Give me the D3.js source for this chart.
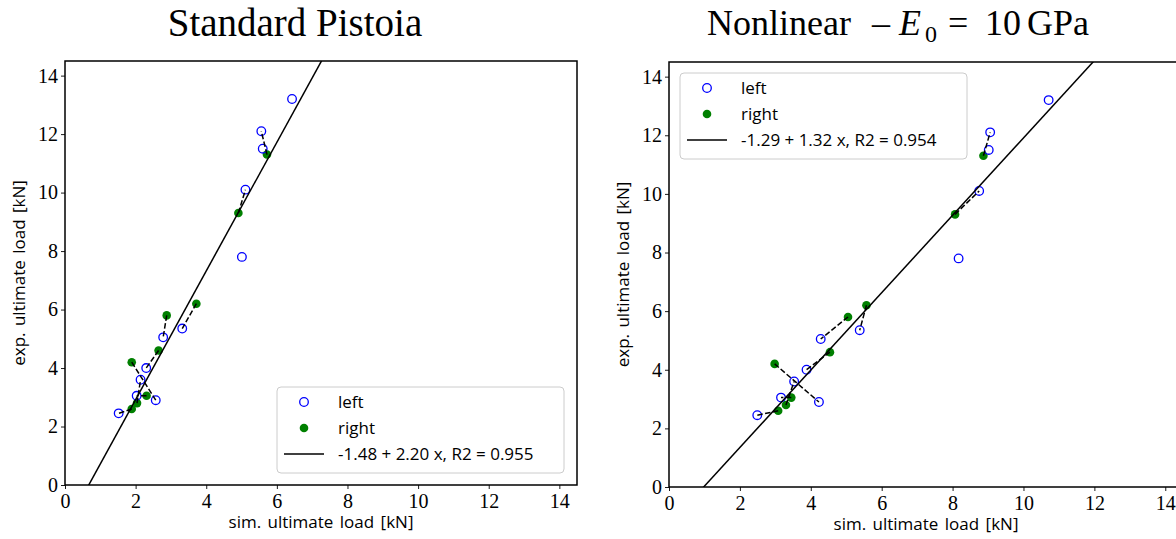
<!DOCTYPE html>
<html>
<head>
<meta charset="utf-8">
<script src="https://cdn.jsdelivr.net/npm/d3@7"></script>
<style>
  body { margin: 0; background: #fff; }
  svg { display: block; }
</style>
</head>
<body>
<div id="chart"></div>
<script>
// Exp. loads (shared by both panels)
const expLeft  = [13.2, 12.1, 11.5, 10.1, 7.8, 5.35, 5.05, 4.0, 3.6, 3.05, 2.9, 2.45];
const expRight = [11.3, 9.3, 6.2, 5.8, 4.6, 4.2, 3.05, 2.8, 2.6];

// Sim. loads - standard Pistoia
const simLeftStd  = [6.43, 5.56, 5.60, 5.11, 5.01, 3.32, 2.78, 2.30, 2.14, 2.03, 2.57, 1.52];
const simRightStd = [5.72, 4.91, 3.72, 2.88, 2.65, 1.89, 2.31, 2.04, 1.89];

// Sim. loads - nonlinear
const simLeftNl  = [10.71, 9.06, 9.02, 8.75, 8.17, 5.38, 4.28, 3.88, 3.53, 3.16, 4.23, 2.49];
const simRightNl = [8.87, 8.07, 5.57, 5.05, 4.54, 2.98, 3.45, 3.30, 3.08];

// which "left" point each "right" point is linked to
const pairIdx = [1, 3, 5, 6, 7, 10, 9, 8, 11];

// Fit coefficients [intercept, slope, R2]
const fitStd = [-1.48, 2.20, 0.955];
const fitNl  = [-1.29, 1.32, 0.954];

const ticks = [0, 2, 4, 6, 8, 10, 12, 14];

const W = 1176, H = 539;
const serif = "'Liberation Serif', 'DejaVu Serif', serif";
const sans = "'Open Sans', Lato, sans-serif";

const svg = d3.select('#chart').append('svg')
  .attr('width', W).attr('height', H);

const defs = svg.append('defs');

function panel(id, box, simL, simR, fit, legendPos) {
  const x = d3.scaleLinear().domain([0, 14.5]).range([box.x0, box.x1]);
  const y = d3.scaleLinear().domain([0, 14.5]).range([box.y1, box.y0]);

  defs.append('clipPath').attr('id', 'clip' + id)
    .append('rect')
    .attr('x', box.x0).attr('y', box.y0)
    .attr('width', box.x1 - box.x0).attr('height', box.y1 - box.y0);

  const g = svg.append('g');
  const plot = g.append('g').attr('clip-path', `url(#clip${id})`);

  // right markers (filled)
  plot.selectAll('circle.r').data(expRight).enter()
    .append('circle').attr('class', 'r')
    .attr('cx', (d, i) => x(simR[i])).attr('cy', d => y(d))
    .attr('r', 4.3).attr('fill', 'green');

  // left markers (open)
  plot.selectAll('circle.l').data(expLeft).enter()
    .append('circle').attr('class', 'l')
    .attr('cx', (d, i) => x(simL[i])).attr('cy', d => y(d))
    .attr('r', 4.3).attr('fill', 'none')
    .attr('stroke', 'blue').attr('stroke-width', 1.3);

  // dashed links between left/right of same specimen
  plot.selectAll('line.pair').data(expRight).enter()
    .append('line').attr('class', 'pair')
    .attr('x1', (d, i) => x(simR[i])).attr('y1', d => y(d))
    .attr('x2', (d, i) => x(simL[pairIdx[i]])).attr('y2', (d, i) => y(expLeft[pairIdx[i]]))
    .attr('stroke', 'black').attr('stroke-width', 1.5)
    .attr('stroke-dasharray', '5.5,2.4');

  // regression line
  const xs = [0, 14.5];
  plot.append('line')
    .attr('x1', x(xs[0])).attr('y1', y(fit[0] + fit[1] * xs[0]))
    .attr('x2', x(xs[1])).attr('y2', y(fit[0] + fit[1] * xs[1]))
    .attr('stroke', 'black').attr('stroke-width', 1.5);

  // axes
  const xAxis = g.append('g').attr('transform', `translate(0,${box.y1})`)
    .call(d3.axisBottom(x).tickValues(ticks).tickSize(4).tickSizeOuter(0).tickPadding(3));
  const yAxis = g.append('g').attr('transform', `translate(${box.x0},0)`)
    .call(d3.axisLeft(y).tickValues(ticks).tickSize(4).tickSizeOuter(0).tickPadding(3));
  [xAxis, yAxis].forEach(a => {
    a.select('.domain').remove();
    a.selectAll('line').attr('stroke', 'black').attr('stroke-width', 0.9);
    a.selectAll('text').attr('font-family', serif).attr('font-size', 20).attr('fill', '#000');
  });
  xAxis.selectAll('text').attr('dy', '0.78em');

  // frame
  g.append('rect')
    .attr('x', box.x0).attr('y', box.y0)
    .attr('width', box.x1 - box.x0).attr('height', box.y1 - box.y0)
    .attr('fill', 'none').attr('stroke', 'black').attr('stroke-width', 1.5);

  // axis labels
  g.append('text')
    .attr('x', (box.x0 + box.x1) / 2).attr('y', box.y1 + 43)
    .attr('text-anchor', 'middle')
    .attr('font-family', sans).attr('font-size', 17)
    .attr('word-spacing', 2)
    .text('sim. ultimate load [kN]');
  g.append('text')
    .attr('transform', `translate(${box.x0 - 40},${(box.y0 + box.y1) / 2}) rotate(-90)`)
    .attr('text-anchor', 'middle')
    .attr('font-family', sans).attr('font-size', 17)
    .attr('word-spacing', 2)
    .text('exp. ultimate load [kN]');

  // legend
  const lg = g.append('g').attr('transform', `translate(${legendPos.x},${legendPos.y})`);
  lg.append('rect')
    .attr('width', 287).attr('height', 86).attr('rx', 4)
    .attr('fill', 'white').attr('fill-opacity', 0.8)
    .attr('stroke', '#cccccc').attr('stroke-width', 1);
  const rows = [
    {label: 'left', kind: 'open'},
    {label: 'right', kind: 'fill'},
    {label: `${fit[0].toFixed(2)} + ${fit[1].toFixed(2)} x, R2 = ${fit[2].toFixed(3)}`, kind: 'line'}
  ];
  const row = lg.selectAll('g.row').data(rows).enter()
    .append('g').attr('class', 'row')
    .attr('transform', (d, i) => `translate(0,${15 + i * 26})`);
  row.filter(d => d.kind === 'open').append('circle')
    .attr('cx', 27).attr('r', 4.3).attr('fill', 'none')
    .attr('stroke', 'blue').attr('stroke-width', 1.3);
  row.filter(d => d.kind === 'fill').append('circle')
    .attr('cx', 27).attr('r', 4.3).attr('fill', 'green');
  row.filter(d => d.kind === 'line').append('line')
    .attr('x1', 7).attr('x2', 47).attr('stroke', 'black').attr('stroke-width', 1.5);
  row.append('text')
    .attr('x', 61).attr('dy', '0.35em')
    .attr('font-family', sans).attr('font-size', 17)
    .text(d => d.label);
}

panel('A', {x0: 65, x1: 577, y0: 61, y1: 485}, simLeftStd, simRightStd, fitStd, {x: 277, y: 387});
panel('B', {x0: 669, x1: 1183, y0: 62, y1: 487}, simLeftNl, simRightNl, fitNl, {x: 680, y: 73});

// titles
svg.append('text')
  .attr('x', 295).attr('y', 36)
  .attr('text-anchor', 'middle')
  .attr('font-family', serif).attr('font-size', 39)
  .text('Standard Pistoia');

const t2 = svg.append('text').attr('y', 35)
  .attr('font-family', serif).attr('font-size', 36);
t2.append('tspan').attr('x', 707).text('Nonlinear');
t2.append('tspan').attr('x', 872).text('\u2013');
t2.append('tspan').attr('x', 899).attr('font-style', 'italic').text('E');
t2.append('tspan').attr('x', 925).attr('dy', 7).attr('font-size', 24).text('0');
t2.append('tspan').attr('x', 948).attr('dy', -7).text('=');
t2.append('tspan').attr('x', 985).text('10');
t2.append('tspan').attr('x', 1027).text('GPa');
</script>
</body>
</html>
